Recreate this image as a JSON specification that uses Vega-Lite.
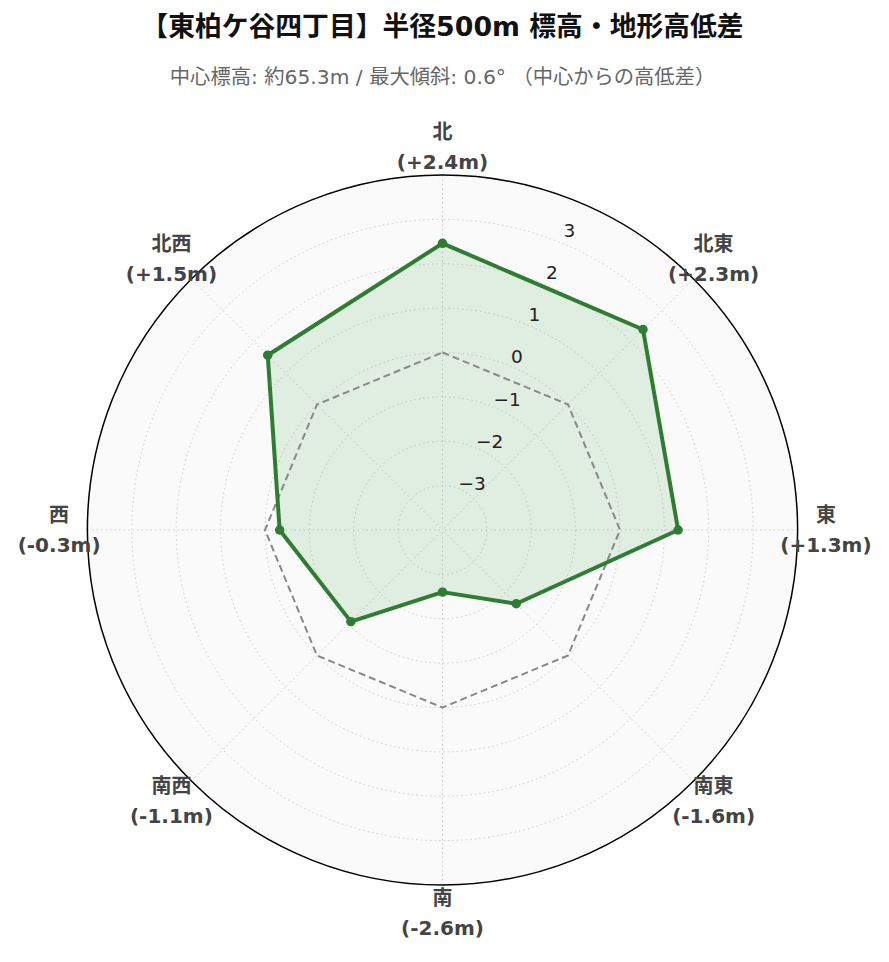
{
  "$schema": "https://vega.github.io/schema/vega-lite/v6.json",
  "width": 710,
  "height": 710,
  "autosize": {"type": "none"},
  "padding": {"left": 87.5, "top": 175, "right": 91.5, "bottom": 77},
  "background": "white",
  "config": {"view": {"stroke": null}},
  "title": {
    "text": "【東柏ケ谷四丁目】半径500m 標高・地形高低差",
    "subtitle": "中心標高: 約65.3m / 最大傾斜: 0.6° （中心からの高低差）",
    "anchor": "middle",
    "font": "DejaVu Sans, Noto Sans CJK JP",
    "fontSize": 26.8,
    "fontWeight": "bold",
    "color": "#111111",
    "subtitleFont": "DejaVu Sans, Noto Sans CJK JP",
    "subtitleFontSize": 20.3,
    "subtitleColor": "#666666",
    "subtitlePadding": 27,
    "offset": 34
  },
  "datasets": {
    "dirs": [
      {"dir": "北", "i": 0, "value": 2.46, "label": "(+2.4m)"},
      {"dir": "北東", "i": 1, "value": 2.39, "label": "(+2.3m)"},
      {"dir": "東", "i": 2, "value": 1.31, "label": "(+1.3m)"},
      {"dir": "南東", "i": 3, "value": -1.65, "label": "(-1.6m)"},
      {"dir": "南", "i": 4, "value": -2.6, "label": "(-2.6m)"},
      {"dir": "南西", "i": 5, "value": -1.08, "label": "(-1.1m)"},
      {"dir": "西", "i": 6, "value": -0.33, "label": "(-0.3m)"},
      {"dir": "北西", "i": 7, "value": 1.57, "label": "(+1.5m)"}
    ],
    "grid": [
      {"level": -3, "text": "−3"},
      {"level": -2, "text": "−2"},
      {"level": -1, "text": "−1"},
      {"level": 0, "text": "0"},
      {"level": 1, "text": "1"},
      {"level": 2, "text": "2"},
      {"level": 3, "text": "3"}
    ],
    "outer": [{"level": 4}]
  },
  "layer": [
    {
      "data": {"name": "outer"},
      "transform": [{"calculate": "datum.level + 4", "as": "r"}],
      "mark": {"type": "arc", "theta": 6.2832, "fill": "#fafafa"},
      "encoding": {
        "radius": {"field": "r", "type": "quantitative", "stack": null, "scale": {"type": "linear", "domain": [0, 8], "range": [0, 355], "zero": true}}
      }
    },
    {
      "data": {"name": "grid"},
      "transform": [{"calculate": "datum.level + 4", "as": "r"}],
      "mark": {"type": "arc", "theta": 6.2832, "filled": false, "stroke": "#cccccc", "strokeWidth": 1, "strokeDash": [1.5, 3]},
      "encoding": {
        "radius": {"field": "r", "type": "quantitative", "stack": null, "scale": {"type": "linear", "domain": [0, 8], "range": [0, 355], "zero": true}}
      }
    },
    {
      "data": {"name": "dirs"},
      "transform": [
        {"calculate": "datum.i * PI / 4", "as": "ang"},
        {"calculate": "8 * sin(datum.ang)", "as": "sx"},
        {"calculate": "8 * cos(datum.ang)", "as": "sy"}
      ],
      "mark": {"type": "rule", "stroke": "#cccccc", "strokeWidth": 1, "strokeDash": [1.5, 3]},
      "encoding": {
        "x": {"field": "sx", "type": "quantitative", "scale": {"domain": [-8, 8], "nice": false, "zero": false}, "axis": null},
        "y": {"field": "sy", "type": "quantitative", "scale": {"domain": [-8, 8], "nice": false, "zero": false}, "axis": null},
        "x2": {"datum": 0},
        "y2": {"datum": 0}
      }
    },
    {
      "data": {"name": "dirs"},
      "transform": [
        {"calculate": "datum.i * PI / 4", "as": "ang"},
        {"calculate": "(datum.value + 4) * sin(datum.ang)", "as": "px"},
        {"calculate": "(datum.value + 4) * cos(datum.ang)", "as": "py"}
      ],
      "mark": {"type": "line", "interpolate": "linear-closed", "fill": "#4caf50", "fillOpacity": 0.15, "strokeWidth": 0},
      "encoding": {
        "x": {"field": "px", "type": "quantitative", "scale": {"domain": [-8, 8], "nice": false, "zero": false}, "axis": null},
        "y": {"field": "py", "type": "quantitative", "scale": {"domain": [-8, 8], "nice": false, "zero": false}, "axis": null},
        "order": {"field": "i", "type": "quantitative"}
      }
    },
    {
      "data": {"name": "dirs"},
      "transform": [
        {"calculate": "datum.i * PI / 4", "as": "ang"},
        {"calculate": "4 * sin(datum.ang)", "as": "zx"},
        {"calculate": "4 * cos(datum.ang)", "as": "zy"}
      ],
      "mark": {"type": "line", "interpolate": "linear-closed", "stroke": "#888888", "strokeWidth": 2, "strokeDash": [7, 4]},
      "encoding": {
        "x": {"field": "zx", "type": "quantitative", "scale": {"domain": [-8, 8], "nice": false, "zero": false}, "axis": null},
        "y": {"field": "zy", "type": "quantitative", "scale": {"domain": [-8, 8], "nice": false, "zero": false}, "axis": null},
        "order": {"field": "i", "type": "quantitative"}
      }
    },
    {
      "data": {"name": "dirs"},
      "transform": [
        {"calculate": "datum.i * PI / 4", "as": "ang"},
        {"calculate": "(datum.value + 4) * sin(datum.ang)", "as": "px"},
        {"calculate": "(datum.value + 4) * cos(datum.ang)", "as": "py"}
      ],
      "mark": {"type": "line", "interpolate": "linear-closed", "stroke": "#2e7d32", "strokeWidth": 4, "strokeJoin": "round"},
      "encoding": {
        "x": {"field": "px", "type": "quantitative", "scale": {"domain": [-8, 8], "nice": false, "zero": false}, "axis": null},
        "y": {"field": "py", "type": "quantitative", "scale": {"domain": [-8, 8], "nice": false, "zero": false}, "axis": null},
        "order": {"field": "i", "type": "quantitative"}
      }
    },
    {
      "data": {"name": "dirs"},
      "transform": [
        {"calculate": "datum.i * PI / 4", "as": "ang"},
        {"calculate": "(datum.value + 4) * sin(datum.ang)", "as": "px"},
        {"calculate": "(datum.value + 4) * cos(datum.ang)", "as": "py"}
      ],
      "mark": {"type": "point", "filled": true, "size": 90, "color": "#2e7d32", "opacity": 1},
      "encoding": {
        "x": {"field": "px", "type": "quantitative", "scale": {"domain": [-8, 8], "nice": false, "zero": false}, "axis": null},
        "y": {"field": "py", "type": "quantitative", "scale": {"domain": [-8, 8], "nice": false, "zero": false}, "axis": null}
      }
    },
    {
      "data": {"name": "outer"},
      "transform": [{"calculate": "datum.level + 4", "as": "r"}],
      "mark": {"type": "arc", "theta": 6.2832, "filled": false, "stroke": "#000000", "strokeWidth": 1.5},
      "encoding": {
        "radius": {"field": "r", "type": "quantitative", "stack": null, "scale": {"type": "linear", "domain": [0, 8], "range": [0, 355], "zero": true}}
      }
    },
    {
      "data": {"name": "dirs"},
      "transform": [
        {"calculate": "datum.i * PI / 4", "as": "ang"},
        {"calculate": "8.64 * sin(datum.ang)", "as": "lx"},
        {"calculate": "8.64 * cos(datum.ang)", "as": "ly"},
        {"calculate": "datum.dir + '\\n' + datum.label", "as": "txt"}
      ],
      "mark": {"type": "text", "font": "DejaVu Sans, Noto Sans CJK JP", "fontSize": 20, "fontWeight": "bold", "color": "#444444", "align": "center", "baseline": "middle", "lineBreak": "\n", "lineHeight": 30, "dy": -14},
      "encoding": {
        "x": {"field": "lx", "type": "quantitative", "scale": {"domain": [-8, 8], "nice": false, "zero": false}, "axis": null},
        "y": {"field": "ly", "type": "quantitative", "scale": {"domain": [-8, 8], "nice": false, "zero": false}, "axis": null},
        "text": {"field": "txt"}
      }
    },
    {
      "data": {"name": "grid"},
      "transform": [
        {"calculate": "1.03 * datum.level + 4.21", "as": "tr"},
        {"calculate": "datum.tr * sin(PI / 8)", "as": "tx"},
        {"calculate": "datum.tr * cos(PI / 8)", "as": "ty"}
      ],
      "mark": {"type": "text", "font": "DejaVu Sans", "fontSize": 18.5, "color": "#222222", "align": "left", "baseline": "middle", "dx": -3},
      "encoding": {
        "x": {"field": "tx", "type": "quantitative", "scale": {"domain": [-8, 8], "nice": false, "zero": false}, "axis": null},
        "y": {"field": "ty", "type": "quantitative", "scale": {"domain": [-8, 8], "nice": false, "zero": false}, "axis": null},
        "text": {"field": "text"}
      }
    }
  ]
}
